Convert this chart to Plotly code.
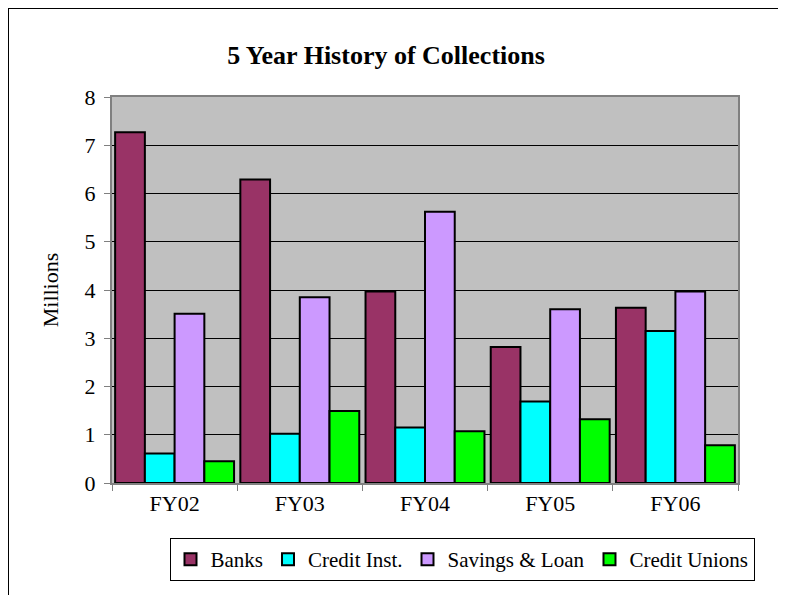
import plotly.graph_objects as go

categories = ["FY02", "FY03", "FY04", "FY05", "FY06"]
banks = [7.27, 6.29, 3.97, 2.82, 3.63]
credit_inst = [0.61, 1.02, 1.15, 1.69, 3.15]
savings_loan = [3.51, 3.85, 5.62, 3.60, 3.97]
credit_unions = [0.45, 1.49, 1.07, 1.32, 0.78]

series = [
    ("Banks", banks, "#993366"),
    ("Credit Inst.", credit_inst, "#00FFFF"),
    ("Savings & Loan", savings_loan, "#CC99FF"),
    ("Credit Unions", credit_unions, "#00FF00"),
]

FONT = "Liberation Serif, Times New Roman, serif"

fig = go.Figure()
for name, vals, color in series:
    fig.add_trace(go.Bar(
        x=categories, y=vals, name=name,
        marker=dict(color=color, line=dict(color="black", width=2)),
    ))

# page is drawn with an 8px body offset; figure coordinates = page - 8
OFF = 8
W, H = 786 - OFF, 595 - OFF
L, T = 112 - OFF, 97 - OFF
PR, PB = 738 - OFF, 483 - OFF
R, B = W - PR, H - PB
pw, ph = PR - L, PB - T

def px_x(p):
    return (p - OFF - L) / pw

def px_y(p):
    return 1 - (p - OFF - T) / ph

fig.update_layout(
    width=W, height=H,
    margin=dict(l=L, r=R, t=T, b=B),
    paper_bgcolor="white",
    plot_bgcolor="#C0C0C0",
    barmode="group",
    bargap=0.05,
    bargroupgap=0,
    font=dict(family=FONT, size=22, color="black"),
    title=dict(text="<b>5 Year History of Collections</b>", x=px_x(386), xref="paper",
               xanchor="center", y=1 - (55 - OFF) / H, yanchor="middle",
               font=dict(family=FONT, size=26, color="black")),
    xaxis=dict(
        showgrid=False, ticks="outside", tickson="boundaries", ticklen=6,
        tickcolor="#808080", showline=True, linecolor="#808080", linewidth=2,
        mirror=True, tickfont=dict(family=FONT, size=22),
    ),
    yaxis=dict(
        range=[0, 8], dtick=1, showgrid=True, gridcolor="black", gridwidth=1,
        ticks="outside", ticklen=6, tickcolor="#808080",
        showline=True, linecolor="#808080", linewidth=2, mirror=True,
        zeroline=False, ticklabelstandoff=4,
        title=dict(text="Millions", font=dict(family=FONT, size=22), standoff=20),
        tickfont=dict(family=FONT, size=22),
    ),
    legend=dict(
        orientation="h", x=px_x(462), xanchor="center", y=px_y(538), yanchor="top",
        bordercolor="black", borderwidth=1, bgcolor="white",
        font=dict(family=FONT, size=21), traceorder="normal",
        itemwidth=30,
    ),
    shapes=[dict(type="rect", xref="paper", yref="paper",
                 x0=px_x(8), x1=px_x(779), y0=px_y(610), y1=px_y(8),
                 line=dict(color="black", width=2), layer="below")],
)

fig.write_html("out.html")
